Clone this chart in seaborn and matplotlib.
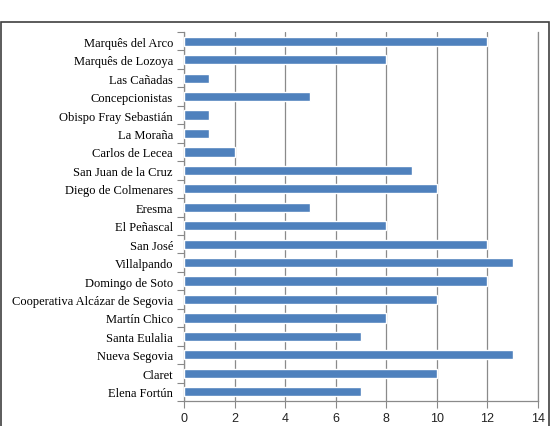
import matplotlib
matplotlib.use('Agg')
import matplotlib.pyplot as plt
import seaborn as sns
import pandas as pd
from matplotlib.patches import Rectangle
from matplotlib.ticker import FixedLocator

# Data, top to bottom
centros = ['Marquês del Arco', 'Marquês de Lozoya', 'Las Cañadas', 'Concepcionistas',
           'Obispo Fray Sebastián', 'La Moraña', 'Carlos de Lecea', 'San Juan de la Cruz',
           'Diego de Colmenares', 'Eresma', 'El Peñascal', 'San José', 'Villalpando',
           'Domingo de Soto', 'Cooperativa Alcázar de Segovia', 'Martín Chico',
           'Santa Eulalia', 'Nueva Segovia', 'Claret', 'Elena Fortún']
valores = [12, 8, 1, 5, 1, 1, 2, 9, 10, 5, 8, 12, 13, 12, 10, 8, 7, 13, 10, 7]
x_ticks = [0, 2, 4, 6, 8, 10, 12, 14]

df = pd.DataFrame({'Centro': centros, 'Valor': valores})

sns.set_style('white')
fig = plt.figure(figsize=(5.52, 4.27), dpi=100)
ax = fig.add_axes([184/552, 1 - 402/427, (538 - 184)/552, (402 - 33)/427])

sns.barplot(data=df, x='Valor', y='Centro', orient='h', color='#4F81BD',
            saturation=1, width=0.5, ax=ax, zorder=3)

ax.set_xlim(0, 14)
ax.set_ylim(len(centros) - 0.5, -0.5)
ax.set_xticks(x_ticks)
ax.set_xticklabels([str(t) for t in x_ticks], family='Liberation Sans',
                   fontsize=9, color='#222222')
ax.set_yticks(range(len(centros)))
ax.set_yticklabels(centros, family='Liberation Serif', fontsize=9, color='black')
ax.yaxis.set_minor_locator(FixedLocator([i - 0.5 for i in range(len(centros) + 1)]))
ax.tick_params(axis='y', which='major', length=0, pad=8)
ax.tick_params(axis='y', which='minor', length=5, color='#888888', width=0.8, left=True)
ax.tick_params(axis='x', which='major', length=5, color='#888888', width=0.8,
               bottom=True, pad=3)

ax.grid(axis='x', color='#8a8a8a', linewidth=0.9, zorder=0)
ax.set_axisbelow(True)
ax.spines['top'].set_visible(False)
for s in ['left', 'bottom', 'right']:
    ax.spines[s].set_color('#8a8a8a')
    ax.spines[s].set_linewidth(0.9)
ax.set_xlabel('')
ax.set_ylabel('')

# outer chart border (bottom edge is cut off in the original)
fig.patches.append(Rectangle((1/552, -0.05), 548/552, (427 - 23)/427 + 0.05,
                             transform=fig.transFigure, fill=False,
                             edgecolor='#404040', linewidth=1.2, clip_on=False))

fig.savefig('out.png', dpi=100)
